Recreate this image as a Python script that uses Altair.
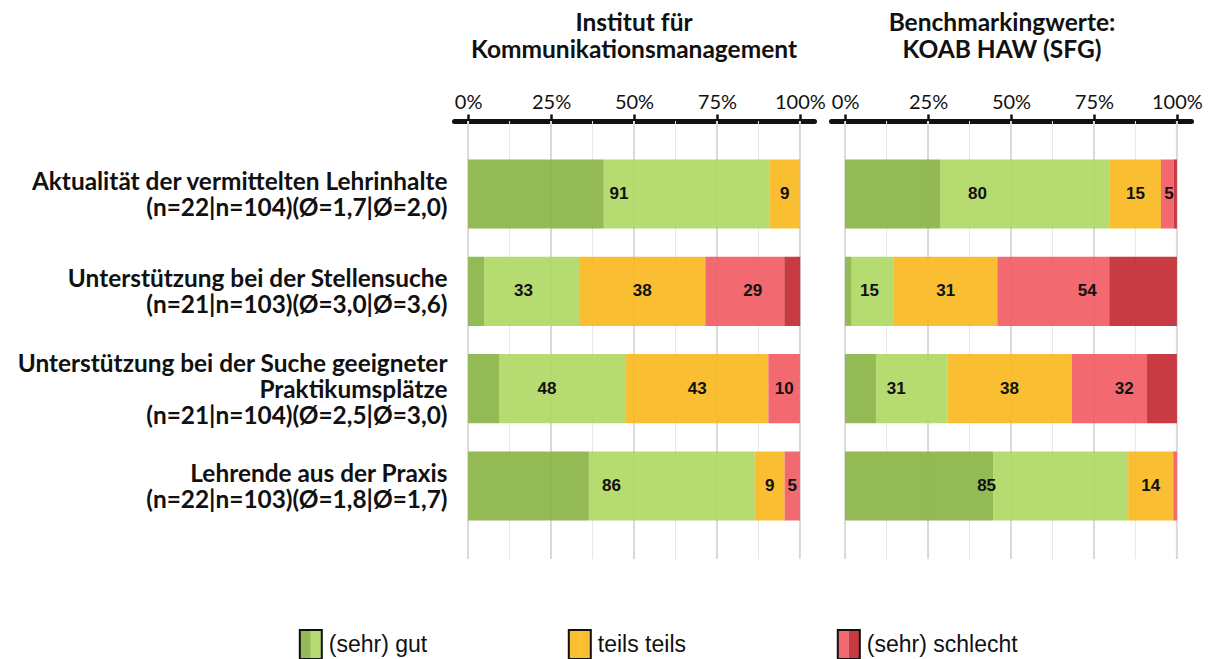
import altair as alt
import pandas as pd

questions = [
    "Aktualität der vermittelten Lehrinhalte\n(n=22|n=104)(Ø=1,7|Ø=2,0)",
    "Unterstützung bei der Stellensuche\n(n=21|n=103)(Ø=3,0|Ø=3,6)",
    "Unterstützung bei der Suche geeigneter\nPraktikumsplätze\n(n=21|n=104)(Ø=2,5|Ø=3,0)",
    "Lehrende aus der Praxis\n(n=22|n=103)(Ø=1,8|Ø=1,7)",
]
categories = ["sehr gut", "gut", "teils teils", "schlecht", "sehr schlecht"]
colors = ["#87b342", "#add762", "#f8b71c", "#f1595f", "#c2262d"]

# Institut für Kommunikationsmanagement (percent)
inst_sehr_gut = [40.9, 4.8, 9.5, 36.4]
inst_gut = [50.0, 28.6, 38.1, 50.0]
inst_teils = [9.1, 38.1, 42.9, 9.0]
inst_schlecht = [0.0, 23.8, 9.5, 4.6]
inst_sehr_schlecht = [0.0, 4.8, 0.0, 0.0]

# Benchmarkingwerte KOAB HAW (SFG) (percent)
bench_sehr_gut = [28.8, 2.0, 9.3, 44.6]
bench_gut = [51.0, 12.7, 21.5, 40.7]
bench_teils = [15.4, 31.2, 37.5, 13.6]
bench_schlecht = [3.8, 33.7, 22.7, 1.1]
bench_sehr_schlecht = [1.0, 20.4, 9.0, 0.0]

panel_titles = [["Institut für", "Kommunikationsmanagement"],
                ["Benchmarkingwerte:", "KOAB HAW (SFG)"]]
tick_values = [0, 25, 50, 75, 100]
grid_values = [0, 12.5, 25, 37.5, 50, 62.5, 75, 87.5, 100]

legend_labels = ["(sehr) gut", "teils teils", "(sehr) schlecht"]
legend_left = ["sehr gut", "teils teils", "schlecht"]
legend_right = ["gut", "teils teils", "sehr schlecht"]

INK = "#111111"
LINE_H = 26  # spacing between label lines
BLANK = "\u200b"  # invisible placeholder line


def centered_label(text):
    # interleave invisible half-lines so that 2- and 3-line labels centre on the bar
    lines = text.split("\n")
    out = [BLANK] * (3 - len(lines))
    for i, ln in enumerate(lines):
        if i:
            out.append(BLANK)
        out.append(ln)
    return "\n".join(out)


qlabels = [centered_label(q) for q in questions]

color_scale = alt.Scale(domain=categories, range=colors)
x_scale = alt.Scale(domain=[-4.25, 104.25], nice=False, zero=False)
y_scale = alt.Scale(paddingInner=0.29, paddingOuter=0.395)

x_axis = alt.Axis(orient="top", values=tick_values, labelExpr="datum.value + '%'",
                  grid=False, domainWidth=5, domainCap="round", domainColor=INK,
                  tickColor=INK, tickWidth=2.5, tickSize=7, labelFont="Lato",
                  labelFontSize=20, labelColor=INK, labelPadding=2, title=None,
                  minExtent=40, maxExtent=40, labelFlush=False, labelOverlap=False)

y_axis = alt.Axis(title=None, domain=False, ticks=False, labelFont="Lato",
                  labelFontSize=24.4, labelFontWeight="bold", labelColor=INK,
                  labelAlign="right", labelBaseline="middle",
                  labelLineHeight=LINE_H / 2, labelOffset=-24,
                  labelPadding=7, labelLimit=0,
                  labelExpr="split(datum.label, '\\n')",
                  minExtent=446, maxExtent=446)


def make_panel(title, series, show_y, title_dx):
    seg_rows, lab_rows = [], []
    for qi, q in enumerate(qlabels):
        s = 0.0
        for ci, c in enumerate(categories):
            v = series[ci][qi]
            seg_rows.append({"q": q, "cat": c, "start": s, "end": s + v})
            s += v
        groups = [series[0][qi] + series[1][qi], series[2][qi],
                  series[3][qi] + series[4][qi]]
        s = 0.0
        for g in groups:
            lab_rows.append({"q": q, "mid": s + g / 2, "val": g})
            s += g

    ya = y_axis if show_y else None
    grid = alt.Chart(pd.DataFrame({"v": grid_values})).mark_rule().encode(
        x=alt.X("v:Q", scale=x_scale, axis=x_axis),
        color=alt.condition("datum.v % 25 == 0", alt.value("#d9d9d9"), alt.value("#e8e8e8")),
        strokeWidth=alt.condition("datum.v % 25 == 0", alt.value(2), alt.value(1)),
    )
    bars = alt.Chart(pd.DataFrame(seg_rows)).mark_bar(opacity=0.9).encode(
        x=alt.X("start:Q", scale=x_scale, axis=x_axis),
        x2="end:Q",
        y=alt.Y("q:N", sort=qlabels, scale=y_scale, axis=ya),
        color=alt.Color("cat:N", scale=color_scale, legend=None),
    )
    labels = alt.Chart(pd.DataFrame(lab_rows)).transform_filter("datum.val >= 4").mark_text(
        font="Liberation Sans", fontSize=17, fontWeight="bold", color=INK
    ).encode(
        x=alt.X("mid:Q", scale=x_scale, axis=x_axis),
        y=alt.Y("q:N", sort=qlabels, scale=y_scale, axis=ya),
        text=alt.Text("val:Q", format=".0f"),
    )
    return alt.layer(grid, bars, labels).properties(
        width=360, height=438,
        title=alt.TitleParams(text=title, font="Lato", fontSize=24.5, fontWeight="bold",
                              color=INK, anchor="middle", frame="group",
                              lineHeight=27, offset=18, dx=title_dx),
    )


left = make_panel(panel_titles[0],
                  [inst_sehr_gut, inst_gut, inst_teils, inst_schlecht, inst_sehr_schlecht], True, 0)
right = make_panel(panel_titles[1],
                   [bench_sehr_gut, bench_gut, bench_teils, bench_schlecht, bench_sehr_schlecht], False, -9)

leg_rows = []
for lab, l, r in zip(legend_labels, legend_left, legend_right):
    leg_rows.append({"label": lab, "half": "a", "cat": l})
    leg_rows.append({"label": lab, "half": "b", "cat": r})
leg_df = pd.DataFrame(leg_rows)

lx = alt.X("label:N", sort=legend_labels, axis=None,
           scale=alt.Scale(paddingInner=0.9182, paddingOuter=0, range=[-154.2, 405.8]))
ly = alt.Y("row:N", axis=None, scale=alt.Scale(paddingInner=0, paddingOuter=0))
lbase = alt.Chart(leg_df).transform_calculate(row="'r'")
swatch = lbase.mark_bar(opacity=0.9).encode(
    x=lx,
    xOffset=alt.XOffset("half:N", sort=["a", "b"], scale=alt.Scale(paddingInner=0, paddingOuter=0)),
    y=ly,
    color=alt.Color("cat:N", scale=color_scale, legend=None),
)
border = lbase.transform_filter("datum.half == 'a'").mark_bar(
    filled=False, color=INK, strokeWidth=2).encode(x=lx, y=ly)
ltext = lbase.transform_filter("datum.half == 'a'").mark_text(
    align="left", baseline="middle", dx=18, font="Liberation Sans", fontSize=23, color=INK
).encode(x=lx, y=ly, text="label:N")
legend = alt.layer(swatch, border, ltext).properties(width=406, height=29)

top = alt.hconcat(left, right, spacing=5)
chart = alt.vconcat(top, legend, spacing=69).properties(
    padding={"top": 2, "left": 0, "right": 0, "bottom": 0}
).configure_view(stroke=None)

chart.save("out.html", embed_options={"renderer": "svg", "actions": False})
